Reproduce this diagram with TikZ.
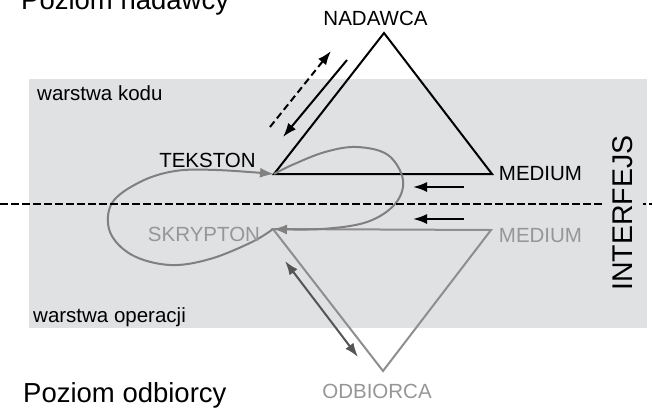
\documentclass[tikz,border=0pt]{standalone}
\usepackage{fontspec}
\setmainfont{Liberation Sans}
\usetikzlibrary{arrows.meta}

\definecolor{layer}{RGB}{224,225,227}
\definecolor{loopgray}{RGB}{128,128,128}
\definecolor{lowgray}{RGB}{142,142,142}
\definecolor{txtgray}{RGB}{150,150,150}
\definecolor{arrgray}{RGB}{85,85,85}

\begin{document}
\begin{tikzpicture}[
  x=1pt, y=-1pt,
  >={Latex[length=14pt,width=10pt]},
  lbl/.style={inner sep=0pt, font=\fontsize{20.5}{24}\selectfont},
  title/.style={inner sep=0pt, anchor=base west, font=\fontsize{27.5}{32}\selectfont},
  upper/.style={line width=2pt, black, line join=miter},
  lower/.style={line width=2pt, lowgray, line join=miter},
  loopline/.style={line width=2pt, loopgray}
]
\useasboundingbox (0,0) rectangle (652,408);

% layers
\fill[layer] (29,79) rectangle (647,328);

% vertices of the two triangles
\coordinate (tek) at (274,174);
\coordinate (nad) at (384,33);
\coordinate (medA) at (492,174);
\coordinate (skr) at (273,229);
\coordinate (medB) at (491,230);
\coordinate (odb) at (383,371);

\draw[upper] (tek) -- (nad) -- (medA) -- cycle;
\draw[lower] (skr) -- (medB) -- (odb) -- cycle;

% loop: skrypton -> tekston -> skrypton
\draw[loopline, ->] plot[smooth, tension=0.6] coordinates {
  (skr) (252,242) (210,259) (170,265) (132,255) (110,232) (112,203)
  (140,182) (175,171) (217,170) (tek)};
\draw[loopline, ->] plot[smooth, tension=0.6] coordinates {
  (tek) (292,165) (325,152) (357,147) (388,155) (403,180) (395,204)
  (367,222) (322,229) (skr)};

% interface line
\coordinate (lineL) at (0,204);
\coordinate (lineR) at (652,204);
\draw[line width=2.2pt, dash pattern=on 8pt off 3pt] (lineL) -- (lineR);

% arrows along the upper triangle
\coordinate (up-tail) at (270,127);
\coordinate (up-tip) at (331,51);
\coordinate (down-tail) at (347,60);
\coordinate (down-tip) at (283,137);
\draw[->, line width=2pt, dash pattern=on 7pt off 4pt] (up-tail) -- (up-tip);
\draw[->, line width=2pt] (down-tail) -- (down-tip);

% arrows from the medium side
\foreach \y [count=\i] in {187,219} {
  \coordinate (in\i-tail) at (464,\y);
  \coordinate (in\i-tip) at (413,\y);
  \draw[->, line width=2pt] (in\i-tail) -- (in\i-tip);
}

% arrow along the lower triangle
\coordinate (op-a) at (285,261);
\coordinate (op-b) at (358,357);
\draw[<->, line width=2pt, arrgray] (op-a) -- (op-b);

% labels
\node[title] (nadtitle) at (21,9) {Poziom nadawcy};
\node[title] (odbtitle) at (23,402) {Poziom odbiorcy};
\node[lbl, anchor=base west] (kod) at (37,100) {warstwa kodu};
\node[lbl, anchor=base west] (oper) at (33,322) {warstwa operacji};

\node[lbl] (tekston) at (207.5,160) {TEKSTON};
\node[lbl] (nadawca) at (375.5,18.5) {NADAWCA};
\node[lbl] (mediumA) at (540.5,173.5) {MEDIUM};
\node[lbl, txtgray] (skrypton) at (204,234.5) {SKRYPTON};
\node[lbl, txtgray] (mediumB) at (540.5,235.5) {MEDIUM};
\node[lbl, txtgray] (odbiorca) at (377,391) {ODBIORCA};

\node[rotate=90, fill=layer, inner xsep=2pt, inner ysep=10pt,
  font=\fontsize{28.5}{32}\selectfont] (iface) at (623,213) {INTERFEJS};
\end{tikzpicture}
\end{document}
